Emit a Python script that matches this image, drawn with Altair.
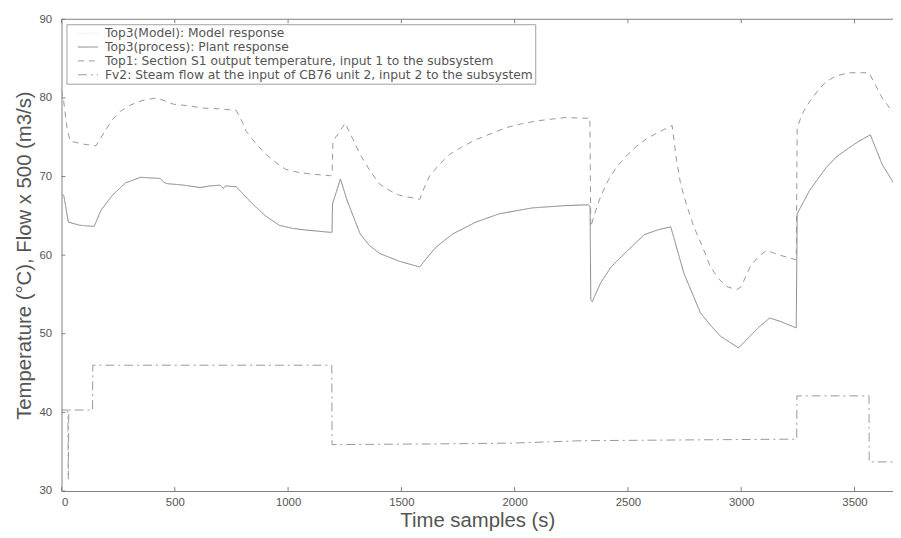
import altair as alt
import pandas as pd

# ---- data ----
plant_t = [0, 10, 30, 80, 144, 174, 224, 283, 349, 436, 450, 465, 540, 611, 655, 700, 713, 725, 771,
           800, 844, 900, 961, 1020, 1077, 1187, 1194, 1196, 1231, 1260, 1318, 1360, 1405, 1493, 1581,
           1620, 1654, 1727, 1829, 1931, 2076, 2222, 2324, 2333, 2336, 2343, 2380, 2426, 2499, 2572,
           2630, 2689, 2747, 2820, 2870, 2908, 2988, 3039, 3080, 3126, 3170, 3243, 3247, 3301, 3374,
           3420, 3476, 3520, 3570, 3622, 3666, 3680]
plant_y = [67.8, 67.6, 64.2, 63.8, 63.65, 65.7, 67.6, 69.2, 69.9, 69.75, 69.3, 69.1, 68.9, 68.6, 68.8,
           68.9, 68.5, 68.8, 68.7, 67.8, 66.5, 65.0, 63.8, 63.4, 63.2, 62.9, 62.9, 66.5, 69.7, 67.0,
           62.7, 61.2, 60.2, 59.2, 58.5, 59.9, 61.05, 62.7, 64.2, 65.25, 66.0, 66.3, 66.4, 66.2, 54.3,
           54.1, 56.5, 58.5, 60.6, 62.6, 63.2, 63.6, 57.7, 52.65, 50.9, 49.7, 48.2, 49.7, 50.9, 52.0,
           51.6, 50.75, 65.25, 68.2, 71.1, 72.5, 73.65, 74.5, 75.3, 71.55, 69.5, 68.8]

# model response overlaps the plant response
model_t = plant_t
model_y = plant_y

top1_t = [0, 10, 25, 38, 100, 152, 190, 224, 260, 305, 360, 421, 494, 560, 626, 700, 771, 800, 815,
          860, 903, 950, 990, 1050, 1107, 1187, 1194, 1198, 1225, 1252, 1285, 1318, 1360, 1405, 1450,
          1493, 1581, 1600, 1625, 1670, 1712, 1770, 1829, 1900, 1960, 2030, 2105, 2222, 2324, 2332,
          2336, 2353, 2380, 2412, 2450, 2499, 2540, 2587, 2640, 2689, 2695, 2715, 2733, 2760, 2791,
          2830, 2864, 2900, 2937, 2980, 3000, 3039, 3075, 3112, 3140, 3170, 3243, 3247, 3270, 3301,
          3340, 3374, 3420, 3476, 3564, 3593, 3622, 3666, 3680]
top1_y = [81.0, 79.5, 76.0, 74.5, 74.1, 73.9, 75.7, 77.2, 78.3, 79.1, 79.7, 80.0, 79.2, 79.0, 78.7,
          78.6, 78.4, 76.8, 75.75, 74.1, 72.8, 71.7, 70.9, 70.5, 70.3, 70.1, 70.2, 74.5, 75.6, 76.8,
          74.8, 72.8, 70.8, 69.0, 68.2, 67.6, 67.1, 68.5, 70.1, 71.6, 72.8, 73.8, 74.7, 75.5, 76.2,
          76.7, 77.1, 77.5, 77.4, 77.5, 63.6, 65.25, 67.5, 69.45, 71.2, 72.8, 73.9, 74.9, 75.7, 76.4,
          76.5, 72.0, 69.0, 66.3, 63.6, 61.0, 58.5, 57.0, 56.0, 55.6, 56.0, 58.5, 59.8, 60.6, 60.3,
          60.0, 59.4, 76.2, 78.0, 79.5, 81.0, 82.05, 82.8, 83.2, 83.2, 81.6, 80.0, 78.3, 78.0]

fv2_t = [0, 28, 30, 32, 137, 138, 1193, 1194, 1700, 2000, 2300, 3245, 3246, 3564, 3565, 3680]
fv2_y = [40.3, 40.3, 31.5, 40.3, 40.3, 46.0, 46.0, 35.9, 36.0, 36.1, 36.4, 36.6, 42.1, 42.1, 33.7, 33.7]

series_names = [
    "Top3(Model): Model response",
    "Top3(process): Plant response",
    "Top1: Section S1 output temperature, input 1 to the subsystem",
    "Fv2: Steam flow at the input of CB76 unit 2, input 2 to the subsystem",
]
series_colors = ["#f0f0f0", "#8a8a8a", "#989898", "#989898"]
series_dashes = [[1, 0], [1, 0], [6, 5], [9, 4, 2, 4]]

x_ticks = [0, 500, 1000, 1500, 2000, 2500, 3000, 3500]
y_ticks = [30, 40, 50, 60, 70, 80, 90]

X_MAX = 3670
Y_MIN, Y_MAX = 30, 90

X_TITLE = "Time samples (s)"
Y_TITLE = "Temperature (°C), Flow x 500 (m3/s)"

rows = []
for name, ts, vs in zip(series_names, [model_t, plant_t, top1_t, fv2_t],
                        [model_y, plant_y, top1_y, fv2_y]):
    for t, v in zip(ts, vs):
        rows.append({"t": t, "v": v, "series": name})
df = pd.DataFrame(rows)

xs = alt.Scale(domain=[0, X_MAX], nice=False, zero=False)
ysc = alt.Scale(domain=[Y_MIN, Y_MAX], nice=False, zero=False)

# long horizontal stroke symbol that keeps the legend rows compact
leg = alt.Legend(orient="none", legendX=5, legendY=5, title=None, symbolType="M-1.6,0H1.6",
                 symbolSize=160, symbolStrokeWidth=1, symbolOffset=12.7,
                 labelFont="DejaVu Sans", labelFontSize=12.4, labelLimit=700,
                 fillColor="white", strokeColor="#a0a0a0", padding=2, rowPadding=0,
                 labelColor="#555555", direction="vertical", labelOffset=10.2)

xax = alt.Axis(values=x_ticks, title=X_TITLE, tickSize=0, labelPadding=6, grid=False,
               format="d", titlePadding=2)
yax = alt.Axis(values=y_ticks, title=Y_TITLE, tickSize=0, labelPadding=10, grid=False,
               titlePadding=4, format="d")

def enc(chart):
    return chart.encode(
        x=alt.X("t:Q", scale=xs, axis=xax),
        y=alt.Y("v:Q", scale=ysc, axis=yax),
        color=alt.Color("series:N", scale=alt.Scale(domain=series_names, range=series_colors),
                        legend=leg),
        strokeDash=alt.StrokeDash("series:N",
                                  scale=alt.Scale(domain=series_names, range=series_dashes),
                                  legend=leg),
    )

model_layer = enc(alt.Chart(df).transform_filter(
    alt.datum.series == series_names[0]).mark_line(strokeWidth=1, clip=True))
other_layer = enc(alt.Chart(df).transform_filter(
    alt.datum.series != series_names[0]).mark_line(strokeWidth=1, clip=True))

xt = pd.DataFrame({"t": x_ticks})
yt = pd.DataFrame({"v": y_ticks})
tick_col = "#808080"

bottom_ticks = alt.Chart(xt).mark_rule(color=tick_col, strokeWidth=1).encode(
    x=alt.X("t:Q", scale=xs, axis=xax), y=alt.datum(30), y2=alt.datum(30.5))
top_ticks = alt.Chart(xt).mark_rule(color=tick_col, strokeWidth=1).encode(
    x=alt.X("t:Q", scale=xs, axis=xax), y=alt.datum(89.5), y2=alt.datum(90))
left_ticks = alt.Chart(yt).mark_rule(color=tick_col, strokeWidth=1).encode(
    y=alt.Y("v:Q", scale=ysc, axis=yax), x=alt.datum(0), x2=alt.datum(17))
top_border = alt.Chart(pd.DataFrame({"v": [Y_MAX]})).mark_rule(color=tick_col, strokeWidth=1).encode(
    y=alt.Y("v:Q", scale=ysc, axis=yax), x=alt.datum(0), x2=alt.datum(X_MAX))

chart = alt.layer(model_layer, other_layer, bottom_ticks, top_ticks, left_ticks, top_border).properties(
    width=839, height=476, autosize="none",
    padding={"left": 54, "top": 9, "right": 0, "bottom": 40},
).configure(font="Liberation Sans", background="white").configure_view(stroke=None).configure_axis(
    domainColor=tick_col, domainWidth=1, labelColor="#555555", labelFontSize=11.5,
    titleColor="#555555", titleFontSize=20.5, titleFontWeight="normal",
)

chart.save("out.html", embed_options={"renderer": "svg", "actions": False})
